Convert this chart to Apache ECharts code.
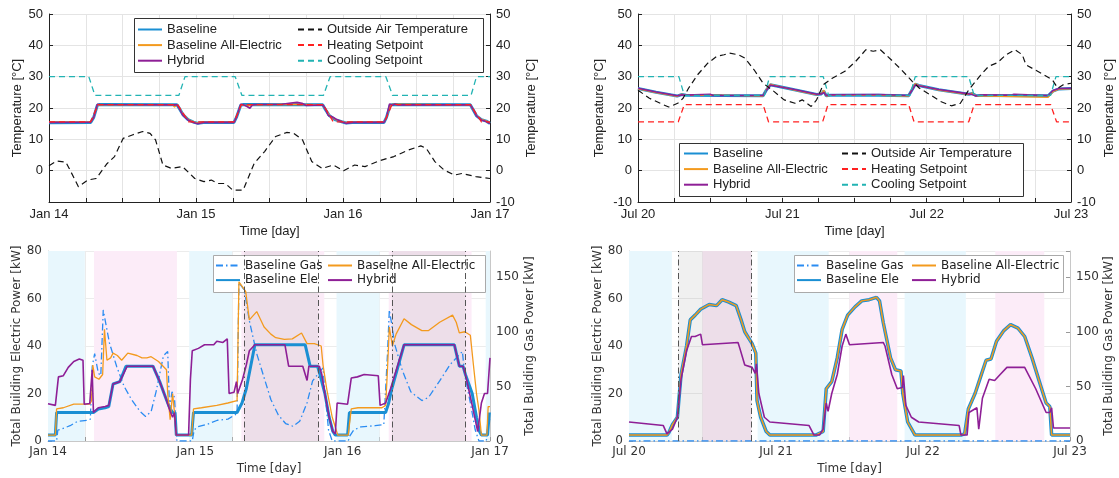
<!DOCTYPE html>
<html><head><meta charset="utf-8">
<script src="https://cdn.jsdelivr.net/npm/echarts@6/dist/echarts.min.js"></script>
<style>html,body{margin:0;padding:0;background:#fff}#c{width:1119px;height:478px}</style>
</head><body><div id="c"></div>
<script>
// ---------- tick labels ----------
const janLabels = ['Jan 14', 'Jan 15', 'Jan 16', 'Jan 17'];
const julLabels = ['Jul 20', 'Jul 21', 'Jul 22', 'Jul 23'];

// ---------- Top-left: January temperatures [hour, °C] ----------
const janOAT = [[0,1.6],[1.3,3.1],[2.75,2.7],[3.3,0.7],[4.8,-5.1],[6.3,-3.0],[7.7,-2.5],[9.5,2.3],[10.7,4.5],[12.1,10.3],[13.6,11.4],[15.3,12.5],[16.5,11.9],[17.4,9.8],[18.6,1.8],[20,0.7],[21.8,1.3],[23.8,-2.5],[25.3,-3.5],[26.5,-3.0],[27.6,-4.1],[28.8,-4.1],[30,-6.2],[31.7,-6.2],[33.5,2.3],[35.2,6.1],[37,10.9],[38.8,12.2],[39.9,12.0],[41.4,9.8],[42.9,2.9],[44.6,0.7],[46.4,1.8],[48.1,0],[49.9,1.8],[51.6,1.3],[54,3.2],[56.3,4.5],[58.7,6.6],[60.7,7.9],[61.6,7.1],[63,2.9],[64.5,0.2],[66.2,-1.4],[67.4,-0.9],[69.7,-1.9],[72,-2.5]];
const janHeatSP = [[0,15.6],[6.8,15.6],[8,21.1],[21,21.1],[22.8,15.6],[30.2,15.6],[31.4,21.1],[44.8,21.1],[46.4,15.6],[54.8,15.6],[56,21.1],[68.8,21.1],[70.6,15.6],[72,15.6]];
const janCoolSP = [[0,30],[6.5,30],[7.5,24],[21.2,24],[22.2,30],[30.4,30],[31.5,24],[44.8,24],[45.9,30],[55,30],[56.1,24],[68.9,24],[69.8,30],[72,30]];
const janTBase = [[0,15.3],[6.8,15.4],[7.3,17],[7.9,20.9],[8.3,21.1],[20.9,21.0],[21.3,19.8],[21.9,17.8],[22.7,16.3],[23.6,15.5],[24.3,15.1],[25.2,15.4],[30.2,15.4],[30.6,17],[31.3,20.9],[31.8,21.1],[44.7,21.0],[45.1,19.6],[45.8,17.5],[46.8,16.2],[47.8,15.6],[48.5,15.2],[49.5,15.4],[54.7,15.4],[55.1,17],[55.7,20.9],[56.2,21.1],[68.8,21.0],[69.2,19.6],[69.8,17.5],[70.6,16.3],[71.4,15.8],[72,15.1]];
const janTAE = [[0,15.6],[6.8,15.6],[7.3,17],[7.9,20.9],[8.3,21.0],[8.6,20.4],[8.9,21.0],[20.2,21.0],[20.5,20.3],[20.9,21.0],[21.3,19.9],[21.9,17.9],[22.7,16.4],[23.6,15.6],[24.3,15.2],[25.2,15.5],[30.2,15.5],[30.6,17],[31.3,20.9],[31.8,21.0],[32.5,20.6],[33,21.0],[40,21.2],[44.7,21.0],[45.1,19.7],[45.8,17.6],[46.8,16.3],[47.8,15.7],[48.5,15.3],[49.5,15.5],[54.7,15.5],[55.1,17],[55.7,20.9],[56.2,21.2],[68.8,21.0],[69.2,19.7],[69.8,17.6],[70.6,16.4],[71.4,15.9],[72,15.2]];
const janTHyb = [[0,15.4],[6.8,15.5],[7.3,17],[7.9,21.2],[8.3,21.1],[20.9,21.0],[21.3,19.8],[21.9,17.6],[22.7,16.2],[23.6,15.4],[24.3,15.0],[25.2,15.4],[30.2,15.4],[30.6,17],[31.3,21.2],[31.8,21.0],[32.4,20.4],[32.8,19.9],[33.2,21.0],[34,21.1],[38,21.2],[39.5,21.6],[40.5,21.8],[41.3,21.5],[42,20.8],[44.7,21.0],[45.1,19.8],[45.6,17.6],[46.2,17.2],[46.9,16.4],[47.8,15.6],[48.5,15.1],[49.5,15.4],[54.7,15.4],[55.1,17],[55.6,21.3],[56.0,20.9],[56.5,21.3],[57,21.0],[68.8,21.0],[69.2,19.7],[69.8,17.5],[70.6,16.2],[71.4,15.7],[72,15.0]];

// ---------- Top-right: July temperatures [hour, °C] ----------
const julOAT = [[0,25.7],[1.9,23.1],[3.7,21.5],[5.1,20.3],[6.6,21.5],[7.5,23.1],[8.4,26.3],[9.9,30.6],[11.6,34.3],[13.1,36.5],[14.3,37],[15.2,37.5],[16.7,37],[17.8,35.9],[19.3,32.2],[20.8,27.9],[22.6,25.3],[24.3,22.6],[26.1,21.5],[27.3,22.6],[28.8,20.5],[29.7,22.6],[30.8,27.4],[32.3,29.5],[34.4,31.7],[36.2,34.9],[37.9,38.6],[39.1,38.1],[40.3,38.6],[42.1,35.4],[43.8,32.2],[45.6,28.5],[46.8,26.3],[48.6,24.2],[50.3,22.1],[52.1,20.7],[53.6,21.5],[55,25.8],[56.8,30.1],[58.3,33.3],[59.8,34.5],[61.2,37],[62.7,38.6],[63.9,37],[64.5,33.8],[66,32.2],[67.5,30.6],[68.9,29],[69.8,26.3],[70.7,27.4],[72,27.9]];
const julHeatSP = [[0,15.6],[6.7,15.6],[7.7,21.1],[20.8,21.1],[21.7,15.6],[30.7,15.6],[31.6,21.1],[45,21.1],[45.9,15.6],[55,15.6],[55.9,21.1],[68.6,21.1],[69.6,15.6],[72,15.6]];
const julCoolSP = [[0,30],[6.8,30],[7.7,24],[21,24],[21.9,30],[30.8,30],[31.7,24],[45.2,24],[46.1,30],[55,30],[55.9,24],[68.6,24],[69.5,30],[72,30]];
const julTBase = [[0,26.2],[3,25.0],[6.5,23.8],[7.3,24.3],[8,24.1],[14,24.0],[20.8,23.9],[21.3,25.6],[22,27.4],[22.6,27.2],[26,25.8],[29.7,24.3],[30.5,24.5],[30.9,25.4],[31.3,23.9],[32,24.1],[40,24.1],[45,23.9],[45.5,25.6],[46.1,27.6],[46.7,27.2],[50,25.8],[55,24.4],[55.6,24.6],[56.2,24.0],[68.2,23.9],[69,25.4],[70,26.1],[72,26.2]];
const julTAE = [[0,26.1],[3,24.9],[6.5,23.7],[7.3,24.4],[8,24.0],[14,24.1],[20.8,23.8],[21.3,25.8],[22,27.6],[22.6,27.3],[26,25.7],[29.7,24.2],[30.5,24.6],[30.9,25.7],[31.3,23.8],[32,24.0],[40,24.0],[45,23.8],[45.5,25.8],[46.1,27.8],[46.7,27.2],[50,25.7],[55,24.3],[55.6,24.8],[56.2,23.9],[68.2,23.4],[69,25.2],[70,26.0],[72,26.1]];
const julTHyb = [[0,26.3],[3,25.1],[6.5,23.9],[7.3,24.2],[8,24.1],[12,24.4],[12.5,24.0],[20.8,24.0],[21.3,25.5],[22,27.3],[22.6,27.1],[26,25.9],[29.7,24.4],[30.5,24.5],[30.9,25.0],[31.3,24.0],[32,24.2],[40,24.3],[45,24.0],[45.5,25.5],[46.1,27.4],[46.7,27.1],[50,25.9],[55,24.5],[55.6,24.3],[56.2,23.8],[57,24.2],[62,24.1],[62.5,24.4],[68.2,24.0],[69,25.6],[70,26.2],[72,26.3]];

// ---------- Bottom-left: January power [hour, kW] ----------
const janGas = [[0,0],[1.4,0],[1.6,10],[2.2,11],[3.6,14],[4.8,18],[6.5,19],[6.9,20],[7.2,68],[7.6,80],[8.2,62],[8.6,60],[9,120],[9.4,108],[10,90],[11.2,68],[12.4,50],[13.6,38],[15,27],[15.9,22.5],[16.8,27],[17.6,45],[18.8,78],[19.5,82],[19.8,30],[20.2,45],[20.6,40],[21,0],[23.5,0],[23.8,10],[24.4,13],[25.8,15],[27.6,19],[29.3,20],[30.5,24],[30.8,26],[31.1,145],[32,138],[32.8,110],[34,80],[35.2,58],[36.3,38],[37.5,24],[38.7,16],[39.9,13.5],[41,18],[42.2,35],[43.1,55],[44.2,63],[44.8,67],[45.1,45],[45.7,10],[46.3,0],[48.9,0],[49.2,5],[49.8,10],[51,13],[53.3,14],[54.7,15],[55.3,80],[55.6,120],[55.9,110],[56.5,88],[57.7,65],[59.1,45],[60.9,37],[62,40],[63.8,55],[65.5,70],[67.5,82],[67.9,60],[68.8,35],[69.6,10],[70.2,0],[71.4,0],[71.7,18],[72,20]];
const janEle = [[0,2.5],[1.2,2.5],[1.4,12],[7.4,12],[8.2,13.5],[9.3,14],[9.9,14.5],[10.6,24],[11.7,25],[12.7,31.5],[17.1,31.5],[18.2,25],[19.2,18],[19.8,14],[20.3,12],[20.7,12],[20.9,2.5],[23.4,2.5],[23.7,12],[30.8,12],[31.6,16],[32.3,22],[33.7,40.5],[41.9,40.5],[42.7,31.5],[43.9,31.5],[44.3,28],[45.1,20],[45.8,10],[46.4,4],[46.8,2.5],[48.8,2.5],[49.1,12],[55,12],[55.5,16],[56,22],[58,40.5],[66.2,40.5],[67,31.5],[67.6,31.5],[68,28],[69.1,20],[69.8,10],[70.3,4],[70.6,2.5],[71.6,2.5],[71.9,12]];
const janAE = [[0,2.5],[1.2,2.5],[1.4,13.5],[2.5,14],[4.2,15.5],[6.8,15.5],[7.1,17],[7.3,32],[7.6,27],[8.3,26],[8.9,28],[9.2,47],[9.6,34],[10.2,35],[10.6,37],[11.3,36],[12,34],[13,37],[14.5,36],[15.3,35],[16.1,35],[16.8,35.5],[18,33.5],[19.3,30],[19.5,20],[19.9,9],[20.3,20],[20.6,12],[20.9,2.5],[23.4,2.5],[23.7,13.5],[25,14],[27.5,15],[29.3,16],[30.8,17],[31.1,67],[32.2,63],[32.8,51],[34,54.5],[35.2,48],[36.3,45],[37.1,43.5],[38.5,42.8],[39.8,43],[41.3,45.5],[42.2,41],[43.4,41],[44.5,40],[44.8,32],[45.4,22],[46.3,10],[47.2,2.5],[48.9,2.5],[49.4,13.5],[50.5,14],[54.4,14],[55,15],[55.3,30],[55.6,48],[56.1,40],[56.7,45],[58,51.5],[59.2,49],[60.9,46.5],[62,46.5],[63.8,50],[65.9,53],[66.5,50],[67,45.5],[67.9,46],[68.8,44.5],[69.3,32],[69.8,20],[70.2,13],[70.6,2.5],[71.5,2.5],[71.7,14.5],[72,14.5]];
const janHyb = [[0,15.7],[1.2,15],[1.5,15.2],[1.7,27],[2.5,27.5],[3.3,31],[4.2,33.5],[5.1,34.5],[5.7,34],[5.9,15.5],[6.8,15.8],[7.0,16],[7.2,30],[7.4,12],[8.2,14],[9.3,14.5],[9.9,15],[10.6,24],[11.7,25],[12.9,31.5],[17.1,31.5],[18.2,25],[19.2,18],[19.9,12.5],[20.3,10],[20.6,12],[20.9,2.5],[22.9,2.5],[23.2,26],[23.5,38],[24.5,39],[25.5,40.5],[27,40.5],[27.5,42],[28.5,41.5],[29.2,43],[29.5,20],[30.3,20.5],[30.7,25],[30.9,20],[31.7,26],[32.3,32],[32.8,38],[33.7,40.5],[38.6,40.5],[39.2,31.5],[41.5,31.5],[42.2,25.5],[42.5,31.5],[44.2,31.5],[44.6,28],[45.1,20],[45.8,10],[46.4,4],[46.8,3],[47.1,16],[48.8,15.5],[49.4,26.5],[50.4,27],[51.5,28],[53.8,27.5],[54.1,15],[55,16],[55.8,22],[58,40.5],[66.2,40.5],[67,31.5],[67.6,31.5],[68,28],[69.1,15],[70,4],[70.3,3.5],[70.6,16],[71.1,20],[71.6,20],[72,35]];

// ---------- Bottom-right: July power [hour, kW] ----------
const julGas = [[0,0],[72,0]];
const julAE = [[0,2.5],[6.2,2.5],[6.5,3.5],[7.1,7],[7.9,10],[8.5,28],[9.4,40],[10,51],[10.8,53],[11.7,55.5],[13.1,57.5],[14.3,57],[15.2,59.5],[16.3,58.5],[17.5,57],[18.3,51],[18.9,46],[20.1,41],[20.7,37],[20.9,17],[21.5,10],[22.4,4],[23,2.5],[30.5,2.5],[31.7,4],[32.2,22],[33.1,25],[34,35],[34.8,47],[35.7,53],[36.9,56.5],[38,59],[39.2,59.5],[40.4,60.5],[40.9,59],[41.5,50],[42.7,35],[43.5,30],[44.4,29.5],[44.7,20],[45.5,8],[46.7,2.5],[54.2,2.5],[54.8,3],[55.4,13.5],[56.5,20],[57.4,27],[58.3,34],[59.1,34.5],[60,42],[61.2,46.5],[62.3,49],[63.5,47.5],[64.6,44],[65.8,35],[67,25],[68.1,16],[68.7,14.5],[69,2.5],[72,2.5]];
const julEle = julAE; // drawn underneath: the two curves coincide in summer
const julHyb = [[0,8],[5.6,6.5],[6.2,3],[6.5,2.5],[7.1,5],[7.9,10],[8.5,26],[9.4,38],[10.2,44],[10.8,44],[11.7,45],[12,40.5],[17.8,41.5],[18.1,39],[18.9,32],[20.1,31],[20.6,28.5],[20.8,32.5],[21.2,20],[22.1,10],[23,8],[29.4,6.5],[30.2,2.5],[31.1,2.5],[31.7,5],[32.2,16],[32.5,12.5],[33.1,20],[34,28],[34.8,40],[35.4,45],[35.7,45.5],[36,40.5],[41.5,41.5],[41.8,40],[42.9,28],[43.8,22],[44.6,22.5],[44.8,27.5],[45.2,15],[46.1,10],[47.3,8],[53.9,6.5],[54.2,2.5],[55.2,2.5],[55.5,12],[56.8,14],[57.1,5],[57.7,18],[58.8,26],[59.7,25.5],[60.6,28],[61.7,31],[64.6,31],[66.4,22],[68.1,12],[68.7,12],[69,14],[69.3,5.5],[72,5.5]];

// ---------- background periods [start hour, end hour] ----------
const janCyan = [[0,6],[23,30],[47,54],[71.3,72]];
const janPink = [[7.5,21],[31.5,45],[55.5,69]];
const janEvent = [[32,44],[56,68]];
const julCyan = [[0,7],[21,32.6],[45,55]];
const julPink = [[12,20],[36,43.8],[59.8,67.8]];
const julEvent = [[8,20]];

// ---------- styling ----------
const TF = 'Liberation Sans', BF = 'DejaVu Sans';
const C = {base:'#1a8fd3', gas:'#2a8cf2', ae:'#f39a1e', hyb:'#8e1f96', oat:'#111', heat:'#ff2020', cool:'#22b3b3'};
const DASH = [6,4], DASHDOT = [7,3,1.5,3];

function L(name, data, xi, yi, color, width, type) {
  return {type:'line', name, data, xAxisIndex:xi, yAxisIndex:yi, showSymbol:false, symbol:'none',
    lineStyle:{color, width, type: type || 'solid'}, itemStyle:{color}, animation:false, silent:true};
}
function bands(xi, yi, cyan, pink, ev) {
  const d = [];
  cyan.forEach(b => d.push([{xAxis:b[0], itemStyle:{color:'#e8f7fd'}}, {xAxis:b[1]}]));
  pink.forEach(b => d.push([{xAxis:b[0], itemStyle:{color:'#fcecf8'}}, {xAxis:b[1]}]));
  ev.forEach(b => d.push([{xAxis:b[0], itemStyle:{color:'rgba(0,0,0,0.06)'}}, {xAxis:b[1]}]));
  const lines = [];
  ev.forEach(b => { lines.push({xAxis:b[0]}); lines.push({xAxis:b[1]}); });
  return {type:'line', name:'_bands', data:[], xAxisIndex:xi, yAxisIndex:yi, silent:true, animation:false,
    markArea:{silent:true, data:d},
    markLine:{silent:true, symbol:'none', label:{show:false}, animation:false,
      lineStyle:{color:'#555', width:1, type:[6,3,1.5,3]}, data:lines}};
}
function xAx(grid, labels, top) {
  const tc = top ? '#222' : '#333', lc = top ? '#222' : '#c8c8c8';
  return {type:'value', gridIndex:grid, min:0, max:72, interval:6,
    axisLine:{show:true, onZero:false, lineStyle:{color:lc}},
    axisTick:{show:true, inside:true, length:4, lineStyle:{color:top ? '#222' : '#999'}},
    axisLabel:{formatter:v => (v % 24 === 0 ? labels[v / 24] : ''), fontFamily: top ? TF : BF,
      fontSize: top ? 13 : 12, color:tc, margin: top ? 6 : 5, hideOverlap:false},
    splitLine:{show:true, lineStyle:{color: top ? '#e4e4e4' : '#ececec'}},
    name:'Time [day]', nameLocation:'middle', nameGap: top ? 23 : 22,
    nameTextStyle:{fontFamily: top ? TF : BF, fontSize: top ? 13 : 12, color:tc}};
}
function yAx(grid, pos, o) {
  const top = o.top;
  const tc = top ? '#222' : '#333', lc = top ? '#222' : '#c8c8c8';
  return {type:'value', gridIndex:grid, position:pos, min:o.min, max:o.max, interval:o.interval,
    axisLine:{show:true, onZero:false, lineStyle:{color:lc}},
    axisTick:{show:true, inside:true, length:4, lineStyle:{color: top ? '#222' : '#999'}},
    axisLabel:{fontFamily: top ? TF : BF, fontSize: top ? 13 : 12, color:tc, margin:6,
      showMinLabel: o.showMin !== false, formatter: o.fmt || (v => String(v))},
    splitLine:{show: pos === 'left', lineStyle:{color: top ? '#e4e4e4' : '#ececec'}},
    name:o.name, nameLocation:'middle', nameGap:o.gap, nameRotate:90,
    nameTextStyle:{fontFamily: top ? TF : BF, fontSize: top ? 13 : 12, color:tc}};
}
function lg(names, left, top, font, size) {
  return {orient:'vertical', left, top, data:names, itemWidth:24, itemHeight:14, itemGap:2.6, padding:0,
    selectedMode:false, itemStyle:{opacity:0}, textStyle:{fontFamily:font, fontSize:size, color:'#222'}};
}
function box(x, y, w, h, stroke) {
  return {type:'rect', z:3, silent:true, shape:{x:x + 0.5, y:y + 0.5, width:w, height:h},
    style:{fill:'#fff', stroke, lineWidth:1}};
}

const option = {
  backgroundColor:'#fff',
  animation:false,
  grid:[
    {left:49, top:14, width:441, height:188},
    {left:638, top:14, width:433, height:188},
    {left:48, top:251, width:442, height:190},
    {left:629, top:251, width:441, height:190}
  ],
  xAxis:[xAx(0, janLabels, true), xAx(1, julLabels, true), xAx(2, janLabels, false), xAx(3, julLabels, false)],
  yAxis:[
    yAx(0, 'left', {top:true, min:-10, max:50, interval:10, name:'Temperature [°C]', gap:25, showMin:false}),
    yAx(0, 'right', {top:true, min:-10, max:50, interval:10, name:'Temperature [°C]', gap:35}),
    yAx(1, 'left', {top:true, min:-10, max:50, interval:10, name:'Temperature [°C]', gap:32}),
    yAx(1, 'right', {top:true, min:-10, max:50, interval:10, name:'Temperature [°C]', gap:32}),
    yAx(2, 'left', {top:false, min:0, max:80, interval:20, name:'Total Building Electric Power [kW]', gap:25}),
    yAx(2, 'right', {top:false, min:0, max:174, interval:50, name:'Total Building Gas Power [kW]', gap:34, fmt:v => (v % 50 === 0 ? String(v) : '')}),
    yAx(3, 'left', {top:false, min:0, max:80, interval:20, name:'Total Building Electric Power [kW]', gap:23}),
    yAx(3, 'right', {top:false, min:0, max:174, interval:50, name:'Total Building Gas Power [kW]', gap:32, fmt:v => (v % 50 === 0 ? String(v) : '')})
  ],
  legend:[
    lg(['Baseline', 'Baseline All-Electric', 'Hybrid'], 137, 23, TF, 13),
    lg(['Outside Air Temperature', 'Heating Setpoint', 'Cooling Setpoint'], 297, 23, TF, 13),
    lg(['Baseline', 'Baseline All-Electric', 'Hybrid'], 683, 147, TF, 13),
    lg(['Outside Air Temperature', 'Heating Setpoint', 'Cooling Setpoint'], 841, 147, TF, 13),
    lg(['Baseline Gas', 'Baseline Ele'], 215, 259.5, BF, 12),
    lg(['Baseline All-Electric', 'Hybrid'], 327, 259.5, BF, 12),
    lg(['Baseline Gas', 'Baseline Ele'], 796, 259.5, BF, 12),
    lg(['Baseline All-Electric', 'Hybrid'], 911, 259.5, BF, 12)
  ],
  graphic:[
    box(134, 18, 349, 54, '#333'),
    box(679, 143, 344, 53, '#333'),
    box(213, 255, 272, 37, '#aaa'),
    box(794, 255, 269, 37, '#aaa')
  ],
  series:[
    // top-left
    L('Baseline', janTBase, 0, 0, C.base, 3),
    L('Baseline All-Electric', janTAE, 0, 0, C.ae, 1.3),
    L('Hybrid', janTHyb, 0, 0, C.hyb, 1.6),
    L('Heating Setpoint', janHeatSP, 0, 0, C.heat, 1.3, DASH),
    L('Cooling Setpoint', janCoolSP, 0, 0, C.cool, 1.3, DASH),
    L('Outside Air Temperature', janOAT, 0, 0, C.oat, 1.2, DASH),
    // top-right
    L('Baseline', julTBase, 1, 2, C.base, 3),
    L('Baseline All-Electric', julTAE, 1, 2, C.ae, 1.3),
    L('Hybrid', julTHyb, 1, 2, C.hyb, 1.6),
    L('Heating Setpoint', julHeatSP, 1, 2, C.heat, 1.3, DASH),
    L('Cooling Setpoint', julCoolSP, 1, 2, C.cool, 1.3, DASH),
    L('Outside Air Temperature', julOAT, 1, 2, C.oat, 1.2, DASH),
    // bottom-left
    bands(2, 4, janCyan, janPink, janEvent),
    L('Baseline Gas', janGas, 2, 5, C.gas, 1.3, DASHDOT),
    L('Baseline Ele', janEle, 2, 4, C.base, 3),
    L('Baseline All-Electric', janAE, 2, 4, C.ae, 1.3),
    L('Hybrid', janHyb, 2, 4, C.hyb, 1.6),
    // bottom-right
    bands(3, 6, julCyan, julPink, julEvent),
    L('Baseline Gas', julGas, 3, 7, C.gas, 1.3, DASHDOT),
    L('Baseline Ele', julEle, 3, 6, C.base, 3.5),
    L('Baseline All-Electric', julAE, 3, 6, C.ae, 1.5),
    L('Hybrid', julHyb, 3, 6, C.hyb, 1.6)
  ]
};
const chart = echarts.init(document.getElementById('c'), null, {renderer:'canvas'});
chart.setOption(option);
</script>
</body></html>
